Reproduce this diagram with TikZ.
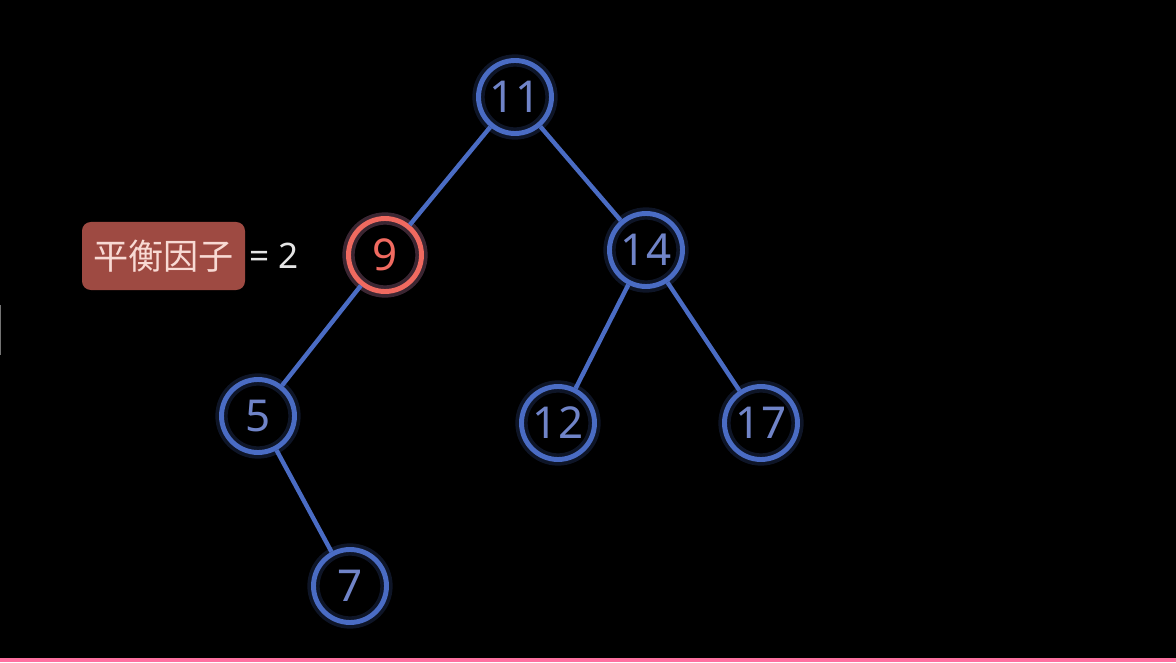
\documentclass[tikz,border=0pt]{standalone}
\usepackage{fontspec}
\usetikzlibrary{positioning}
\setmainfont{Noto Sans}
\newfontfamily\cjk{Noto Sans CJK SC}
\definecolor{nodeblue}{RGB}{74,108,196}
\definecolor{textblue}{RGB}{112,132,200}
\definecolor{hotred}{RGB}{240,106,96}
\definecolor{boxred}{RGB}{158,74,66}
\definecolor{pinkbar}{RGB}{255,112,160}
\tikzset{
  treenode/.style={circle,draw=nodeblue,line width=2.8pt,minimum size=1.46cm,inner sep=0pt,
    text=textblue,font=\fontsize{25}{25}\selectfont,
    preaction={draw=nodeblue,line width=7pt,opacity=0.2}},
  rednode/.style={treenode,draw=hotred,text=hotred,
    preaction={draw=hotred,line width=7pt,opacity=0.2}},
  treeedge/.style={draw=nodeblue,line width=2.5pt}
}
\begin{document}
\begin{tikzpicture}
  % background and frame
  \fill[black] (0,0) rectangle (23.52,13.24);
  \useasboundingbox (0,0) rectangle (23.52,13.24);
  \fill[pinkbar] (0,0) rectangle (23.52,0.08);
  \fill[white!45!black] (0,6.14) rectangle (0.03,7.14);
  % tree nodes
  \node[treenode] (n11) at (10.30,11.30) {11};
  \node[rednode]  (n9)  at (7.70,8.14) {9};
  \node[treenode] (n14) at (12.92,8.24) {14};
  \node[treenode] (n5)  at (5.16,4.92) {5};
  \node[treenode] (n12) at (11.16,4.78) {12};
  \node[treenode] (n17) at (15.22,4.78) {17};
  \node[treenode] (n7)  at (7.00,1.52) {7};
  % edges
  \draw[treeedge] (n11) -- (n9);
  \draw[treeedge] (n11) -- (n14);
  \draw[treeedge] (n9) -- (n5);
  \draw[treeedge] (n5) -- (n7);
  \draw[treeedge] (n14) -- (n12);
  \draw[treeedge] (n14) -- (n17);
  % balance factor label
  \node[fill=boxred,rounded corners=5pt,minimum width=3.26cm,minimum height=1.36cm,
    text={rgb,255:red,248;green,218;blue,212},font=\cjk\fontsize{20}{20}\selectfont]
    (bf) at (3.27,8.12) {平衡因子};
  \node[right=-0.05cm of bf,text=white!90!black,font=\fontsize{20}{20}\selectfont] (bfval) {= 2};
\end{tikzpicture}
\end{document}
